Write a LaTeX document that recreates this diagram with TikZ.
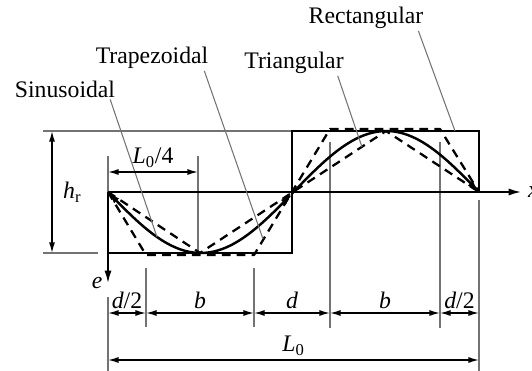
\documentclass[tikz,border=0pt]{standalone}
\usepackage{fontspec}
\setmainfont{Liberation Serif}
\usetikzlibrary{calc,arrows.meta,positioning}
\tikzset{
myWave/.style={
	line width=1.4pt, line join=miter
}
, myDashWave/.style={
	line width=1.3pt, dash pattern=on 5pt off 3.5pt, line join=round
}
, myThin/.style={
	draw=black!55, line width=0.6pt
}
% dimensions
, myDim/.style={<->, >={Latex[length=6pt,width=3.4pt]}, line width=0.8pt}
, myAxis/.style={->, >={Latex[length=7pt,width=4pt]}, line width=0.9pt}
, myLabel/.style={inner sep=1pt, font=\fontsize{13.5}{16}\selectfont}
, myDimLabel/.style={inner sep=2pt, font=\fontsize{13.5}{16}\selectfont}
}

\begin{document}
\begin{tikzpicture}[x=0.02cm,y=-0.02cm]
	\useasboundingbox (0,0) rectangle (532,371);
	% points
	\coordinate (O) at (108,192);
	\coordinate (Mid) at (292,192);
	\coordinate (End) at (479,192);
	\coordinate (AxisEnd) at (521,192);
	\coordinate (ETip) at (108,283);
	% thin guide lines
	\draw[myThin] (43,131) -- (292,131);
	\draw[myThin] (43,253) -- (98,253);
	\draw[myThin] (108,156) -- (O);
	\draw[myThin] (108,297) -- (108,371);
	\draw[myThin] (198,156) -- (198,253);
	\draw[myThin] (146,268) -- (146,327);
	\draw[myThin] (254,268) -- (254,327);
	\draw[myThin] (330,142) -- (330,328);
	\draw[myThin] (440,142) -- (440,328);
	\draw[myThin] (479,200) -- (479,371);
	% axes
	\draw[myAxis] (O) -- (AxisEnd);
	\node[myLabel, anchor=west] (lblX) at (526,192) {\textit{x}};
	\draw[myAxis] (O) -- (ETip);
	\node[myLabel, left=2pt of ETip] (lblE) {\textit{e}};
	% rectangular
	\draw[myWave] (O) -- (108,253) -- (292,253) -- (292,131) -- (479,131) -- (End);
	% trapezoidal
	\draw[myDashWave] (O) -- (146,255) -- (254,255) -- (330,129) -- (440,129) -- (End);
	% triangular
	\draw[myDashWave] (O) -- (200,253) -- (386,131) -- (End);
	% sinusoidal
	\draw[myWave, <->, >={Latex[length=7pt,width=4pt]}]
		plot[domain=108:292, samples=60, smooth] (\x, {192+61*sin(0.97035*(\x-108))});
	\draw[myWave, ->, >={Latex[length=7pt,width=4pt]}]
		plot[domain=292:479, samples=60, smooth] (\x, {192+61*sin(0.97035*(\x-108))});
	% names
	\node[myLabel] (lblSin) at (65,89) {Sinusoidal};
	\node[myLabel] (lblTrap) at (152,58) {Trapezoidal};
	\node[myLabel] (lblTri) at (294,63) {Triangular};
	\node[myLabel] (lblRect) at (366,18) {Rectangular};
	\coordinate (sinFoot) at (157,237);
	\coordinate (trapFoot) at (263,239);
	\coordinate (triFoot) at (362,147);
	\coordinate (rectFoot) at (455,131);
	\draw[myThin] ($(lblSin.south east)+(-7,0)$) -- (sinFoot);
	\draw[myThin] ($(lblTrap.south east)+(-6,0)$) -- (trapFoot);
	\draw[myThin] ($(lblTri.south east)+(-8,0)$) -- (triFoot);
	\draw[myThin] ($(lblRect.south east)+(-7,0)$) -- (rectFoot);
	% dimensions
	\foreach \n/\x in {a/108,b/146,c/254,d/330,e/440,f/479}
		\coordinate (dim\n) at (\x,313);
	\draw[myDim] (dima) -- node[myDimLabel, above] {\textit{d}/2} (dimb);
	\draw[myDim] (dimb) -- node[myDimLabel, above] {\textit{b}} (dimc);
	\draw[myDim] (dimc) -- node[myDimLabel, above] {\textit{d}} (dimd);
	\draw[myDim] (dimd) -- node[myDimLabel, above] {\textit{b}} (dime);
	\draw[myDim] (dime) -- node[myDimLabel, above] {\textit{d}/2} (dimf);
	\coordinate (spanL) at (108,360);
	\coordinate (spanR) at (479,360);
	\draw[myDim] (spanL) -- node[myDimLabel, above] {\textit{L}\textsubscript{0}} (spanR);
	\coordinate (quarterL) at (108,172);
	\coordinate (quarterR) at (198,172);
	\draw[myDim] (quarterL) -- node[myDimLabel, above] {\textit{L}\textsubscript{0}/4} (quarterR);
	\coordinate (hTop) at (52,131);
	\coordinate (hBot) at (52,253);
	\draw[myDim] (hTop) -- node[myDimLabel, right=4pt] {\textit{h}\textsubscript{r}} (hBot);
\end{tikzpicture}
\end{document}
